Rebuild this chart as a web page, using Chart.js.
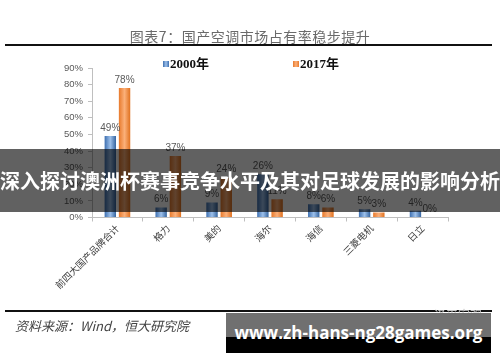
<!DOCTYPE html>
<html>
<head>
<meta charset="UTF-8" />
<title>国产空调市场占有率稳步提升</title>
<style>
  body { margin: 0; width: 500px; height: 362px; position: relative; overflow: hidden; background: #fff;
         font-family: "Noto Sans CJK SC", sans-serif; }
  #myChart { position: absolute; left: 0; top: 0; }
  .title { position: absolute; left: 0; top: 26px; width: 500px; text-align: center; font-size: 14px;
           letter-spacing: 0.5px; line-height: 20px; color: #6a6a6a; }
  .rule { position: absolute; left: 5px; width: 487px; height: 2px; background: #111; }
  .legend { position: absolute; top: 56px; font: bold 13px "Liberation Serif", "Noto Sans CJK SC", serif;
            line-height: 16px; color: #111; }
  .legend i { position: absolute; left: -7px; top: 5px; width: 6px; height: 6px; }
  .source { position: absolute; left: 15px; top: 316px; font-size: 13px; font-style: italic; color: #444;
            line-height: 20px; }
  .banner { position: absolute; left: 0; top: 149px; width: 500px; height: 63px; background: rgba(0,0,0,0.62);
            color: #fff; font-weight: bold; font-size: 20px; line-height: 63px;
            display: flex; justify-content: center; white-space: nowrap; overflow: hidden; }
  .logo { position: absolute; left: 434px; top: 306px; font-size: 12px; color: #c9c9c9; }
  .wm { position: absolute; left: 226px; top: 313px; width: 265px; height: 40px;
        background: linear-gradient(#707070 0, #707070 24px, #000 24px); }
  .wm span { position: absolute; left: 0; width: 265px; top: 8px; text-align: center; color: #fff;
             font: bold 17px "Open Sans", "Noto Sans", sans-serif; line-height: 24px; }
</style>
</head>
<body>
  <canvas id="myChart" width="500" height="362"></canvas>
  <div class="title">图表7：国产空调市场占有率稳步提升</div>
  <div class="rule" style="top:44px"></div>
  <div class="legend" style="left:170px"><i style="background:linear-gradient(90deg,#3d6fb0,#9dc0ea,#3d6fb0)"></i>2000年</div>
  <div class="legend" style="left:300px"><i style="background:linear-gradient(90deg,#e87a2c,#fbb07a,#e87a2c)"></i>2017年</div>
  <div class="rule" style="top:310px"></div>
  <div class="source">资料来源：Wind，恒大研究院</div>
  <div class="banner"><span>深入探讨澳洲杯赛事竞争水平及其对足球发展的影响分析</span></div>
  <div class="logo">泽平宏观</div>
  <div class="wm"><span>www.zh-hans-ng28games.org</span></div>

  <script src="https://cdn.jsdelivr.net/npm/chart.js"></script>
  <script>
  // data
  const categories = ['前四大国产品牌合计', '格力', '美的', '海尔', '海信', '三菱电机', '日立'];
  const share2000 = [49, 6, 9, 26, 8, 5, 4];
  const share2017 = [78, 37, 24, 11, 6, 3, 0];
  const yTicks = [0, 10, 20, 30, 40, 50, 60, 70, 80, 90];

  // excel style shading on each bar
  const shades = [
    ['#3d6fb0', '#9dc0ea', '#35649f'],
    ['#e87a2c', '#fbb07a', '#e0711f']
  ];
  const barShine = {
    id: 'barShine',
    beforeDatasetsDraw(chart) {
      const ctx = chart.ctx;
      chart.data.datasets.forEach((ds, i) => {
        chart.getDatasetMeta(i).data.forEach(bar => {
          const g = ctx.createLinearGradient(bar.x - bar.width / 2, 0, bar.x + bar.width / 2, 0);
          g.addColorStop(0, shades[i][0]);
          g.addColorStop(0.5, shades[i][1]);
          g.addColorStop(1, shades[i][2]);
          bar.options = Object.assign({}, bar.options, { backgroundColor: g });
        });
      });
    }
  };

  // value labels above bars
  const valueLabels = {
    id: 'valueLabels',
    afterDatasetsDraw(chart) {
      const ctx = chart.ctx;
      ctx.save();
      ctx.font = '10px "Liberation Sans", sans-serif';
      ctx.fillStyle = '#595959';
      ctx.textAlign = 'center';
      ctx.textBaseline = 'bottom';
      chart.data.datasets.forEach((ds, i) => {
        chart.getDatasetMeta(i).data.forEach((bar, j) => {
          ctx.fillText(ds.data[j] + '%', bar.x, bar.y - 3);
        });
      });
      ctx.restore();
    }
  };

  const data = {
    labels: categories,
    datasets: [
      { label: '2000年', data: share2000, backgroundColor: '#4f81bd', categoryPercentage: 0.56, barPercentage: 0.8 },
      { label: '2017年', data: share2017, backgroundColor: '#f79646', categoryPercentage: 0.56, barPercentage: 0.8 }
    ]
  };

  const config = {
    type: 'bar',
    data,
    options: {
      responsive: false,
      animation: false,
      devicePixelRatio: 1,
      layout: { padding: { left: 52, right: 52, top: 68, bottom: 59.5 } },
      plugins: { legend: { display: false }, tooltip: { enabled: false } },
      scales: {
        x: {
          afterFit: s => { s.height = 85; },
          grid: { drawOnChartArea: false, tickLength: 4, color: '#bfbfbf', offset: true },
          border: { color: '#bfbfbf' },
          ticks: {
            autoSkip: false, minRotation: 45, maxRotation: 45, padding: 1,
            color: '#404040', font: { family: '"Noto Sans CJK SC"', size: 9.5 }
          }
        },
        y: {
          min: 0, max: 90,
          afterFit: s => { s.width = 40; },
          afterBuildTicks: s => { s.ticks = yTicks.map(v => ({ value: v })); },
          grid: { drawOnChartArea: false, tickLength: 4, color: '#bfbfbf' },
          border: { color: '#bfbfbf' },
          ticks: {
            padding: 5, color: '#595959',
            font: { family: '"Liberation Sans"', size: 9.5 },
            callback: v => v + '%'
          }
        }
      }
    },
    plugins: [barShine, valueLabels]
  };

  const myChart = new Chart(document.getElementById('myChart'), config);
  </script>
</body>
</html>
